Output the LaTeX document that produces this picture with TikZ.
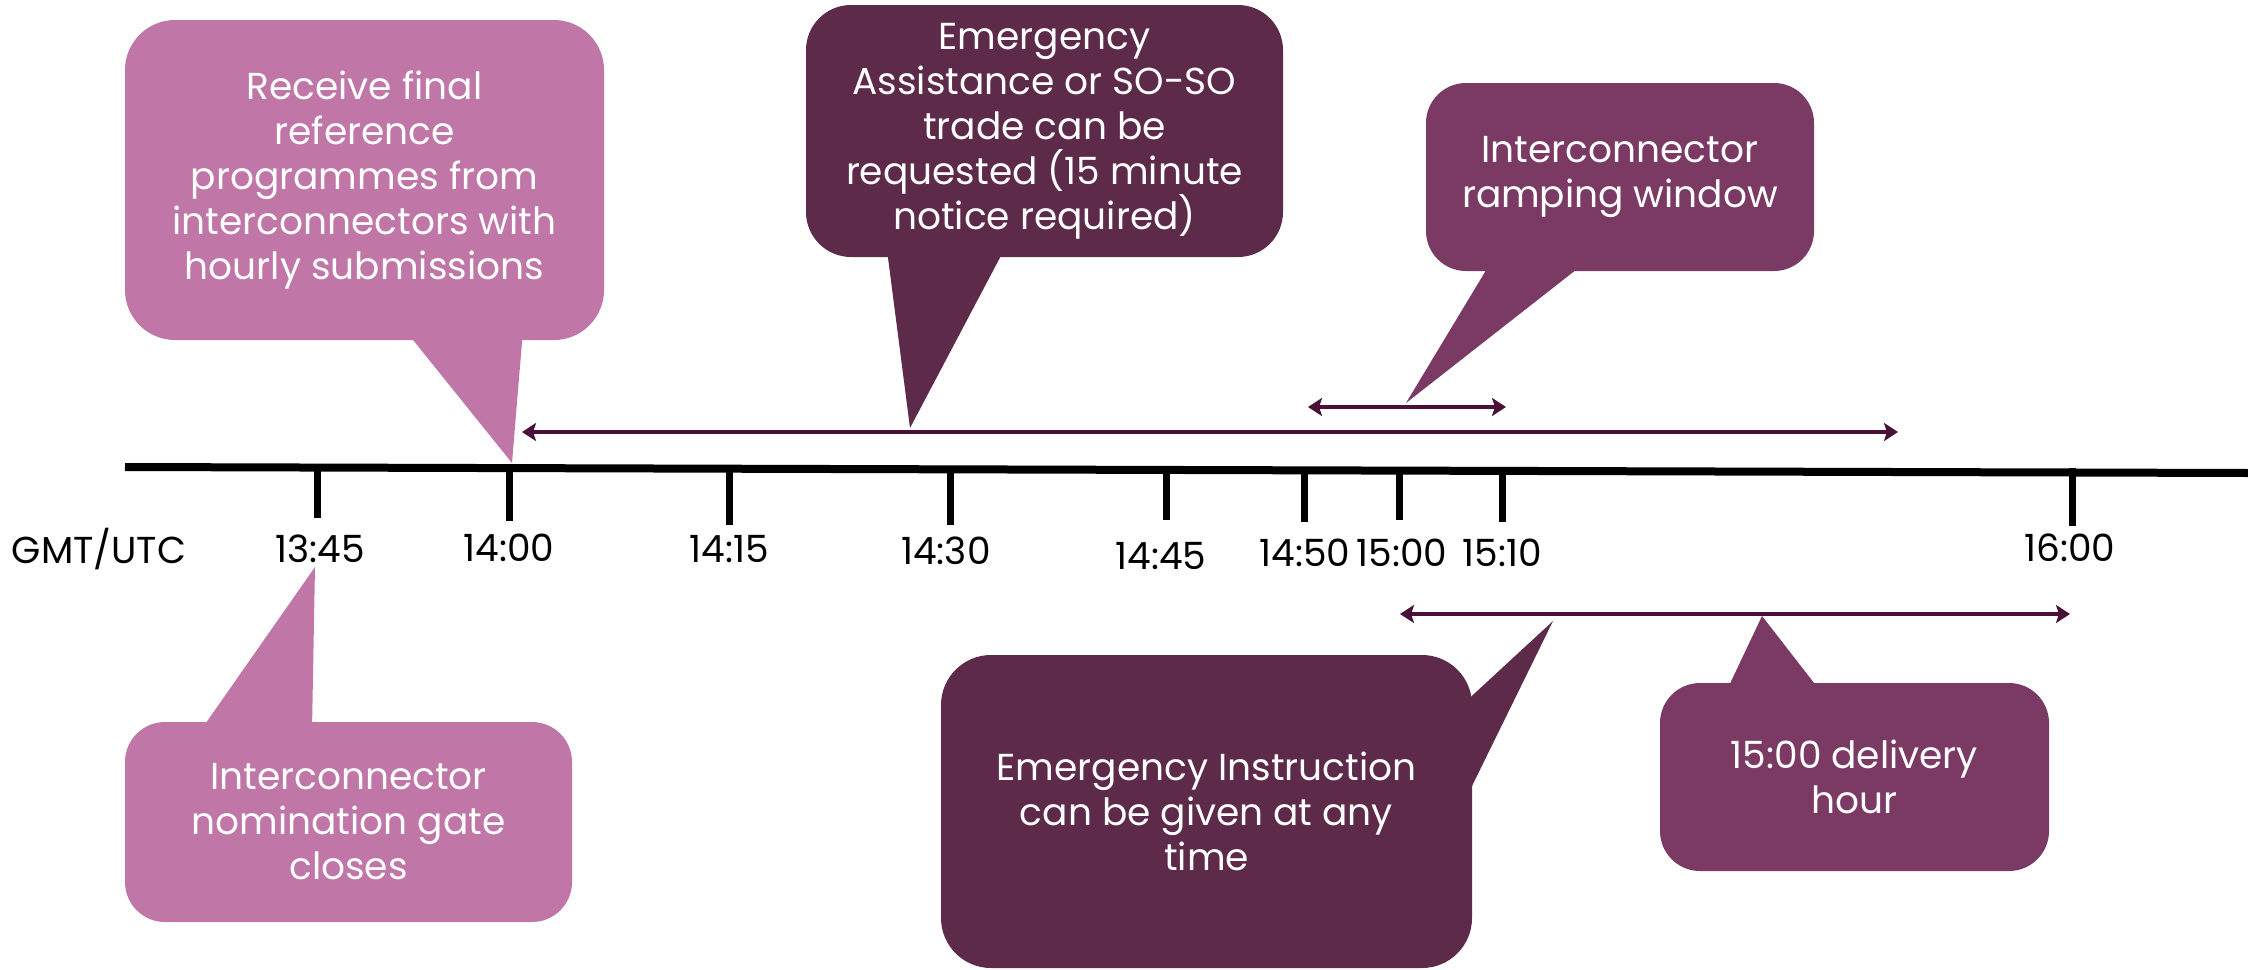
\documentclass[tikz,border=0pt]{standalone}
\usepackage{fontspec}
\setmainfont{Poppins}
\usetikzlibrary{arrows.meta}
\definecolor{pinkc}{HTML}{C076A7}
\definecolor{darkc}{HTML}{5D2A4A}
\definecolor{midc}{HTML}{7B3A64}
\definecolor{arrc}{HTML}{4A1038}
\begin{document}
\begin{tikzpicture}[x=1pt,y=-1pt,
  callbox/.style={rectangle, inner sep=0pt, text=white, align=center,
    font=\fontsize{37.5}{45}\selectfont},
  timelbl/.style={inner sep=0pt, text=black, font=\fontsize{37.5}{42}\selectfont},
  tickln/.style={line width=7pt, black},
  span/.style={line width=3.5pt, arrc, {Stealth[length=14pt,width=18pt,inset=3pt]}-{Stealth[length=14pt,width=18pt,inset=3pt]}}
]
\useasboundingbox (0,0) rectangle (2248,969);

% timeline
\coordinate (tlL) at (125,467);
\coordinate (tlR) at (2248,473);
\draw[line width=8pt, black] (tlL) -- (tlR);

% ticks
\foreach \x/\yb/\nm in {317/518/t1345, 509/521/t1400, 729/525/t1415, 950/525/t1430, 1166/520/t1445, 1304/522/t1450, 1399/520/t1500, 1502/522/t1510, 2072/526/t1600}{
  \coordinate (\nm top) at (\x,468);
  \coordinate (\nm) at (\x,\yb);
  \draw[tickln] (\nm top) -- (\nm);
}

% labels
\node[timelbl] (gmt) at (99,549) {GMT/UTC};
\node[timelbl] (l1345) at (320,549) {13:45};
\node[timelbl] (l1400) at (509,548) {14:00};
\node[timelbl] (l1415) at (729,549) {14:15};
\node[timelbl] (l1430) at (946,551) {14:30};
\node[timelbl] (l1445) at (1161,556) {14:45};
\node[timelbl] (l1450) at (1305,553) {14:50};
\node[timelbl] (l1500) at (1402,553) {15:00};
\node[timelbl] (l1510) at (1502,553) {15:10};
\node[timelbl] (l1600) at (2070,548) {16:00};

% span arrows
\coordinate (sA1) at (522,432);
\coordinate (sA2) at (1898,432);
\coordinate (sB1) at (1308,407);
\coordinate (sB2) at (1506,407);
\coordinate (sC1) at (1400,614);
\coordinate (sC2) at (2070,614);
\draw[span] (sA1) -- (sA2);
\draw[span] (sB1) -- (sB2);
\draw[span] (sC1) -- (sC2);

% callout 1: receive final
\fill[pinkc] (405,330) -- (523,330) -- (512,463) -- cycle;
\node[callbox, fill=pinkc, rounded corners=50pt, minimum width=479pt, minimum height=320pt] (recv) at (364.5,180)
  {Receive final\\reference\\programmes from\\interconnectors with\\hourly submissions};

% callout 2: emergency assistance
\fill[darkc] (887,250) -- (1004,250) -- (910,428) -- cycle;
\node[callbox, fill=darkc, rounded corners=45pt, minimum width=477pt, minimum height=252pt] (assist) at (1044.5,131)
  {Emergency\\Assistance or SO-SO\\trade can be\\requested (15 minute\\notice required)};

% callout 3: ramping window
\fill[midc] (1491,262) -- (1586,262) -- (1406,403) -- cycle;
\node[callbox, fill=midc, rounded corners=40pt, minimum width=388pt, minimum height=188pt] (ramp) at (1620,177)
  {Interconnector\\ramping window};

% callout 4: gate closes
\fill[pinkc] (201,730) -- (312,730) -- (315,567) -- cycle;
\node[callbox, fill=pinkc, rounded corners=40pt, minimum width=447pt, minimum height=200pt] (gate) at (348.5,822)
  {Interconnector\\nomination gate\\closes};

% callout 5: emergency instruction
\fill[darkc] (1462,705) -- (1553,621) -- (1472,786) -- (1462,786) -- cycle;
\node[callbox, fill=darkc, rounded corners=50pt, minimum width=531pt, minimum height=313pt] (instr) at (1206.5,811.5)
  {Emergency Instruction\\can be given at any\\time};

% callout 6: delivery hour
\fill[midc] (1726,692) -- (1821,692) -- (1762,616) -- cycle;
\node[callbox, fill=midc, rounded corners=40pt, minimum width=389pt, minimum height=188pt] (deliv) at (1854.5,777)
  {15:00 delivery\\hour};
\end{tikzpicture}
\end{document}
